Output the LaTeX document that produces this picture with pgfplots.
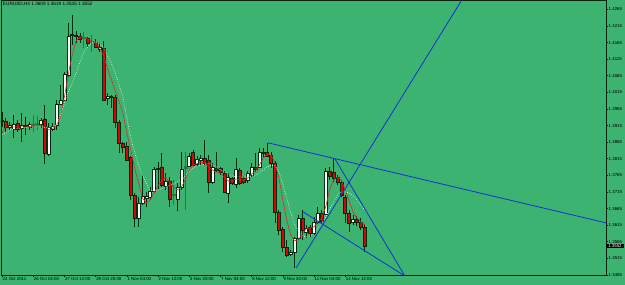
\documentclass[border=0pt]{standalone}
\usepackage{pgfplots}
\pgfplotsset{compat=1.18}
\usepackage{pgfplotstable}
\usepackage{fontspec}
\setmainfont{Liberation Sans}
\definecolor{bg}{RGB}{60,179,113}
\definecolor{axcol}{RGB}{10,35,10}
\definecolor{wickc}{RGB}{0,45,15}
\definecolor{bearc}{RGB}{225,0,0}
\definecolor{ghostc}{RGB}{35,122,70}
\definecolor{mared}{RGB}{230,35,35}
\definecolor{madot}{RGB}{215,245,225}
\definecolor{tline}{RGB}{20,50,210}
\tikzset{
 wick0/.style={draw=wickc, line width=0.9bp},
 wick1/.style={draw=wickc, line width=0.9bp},
 wick2/.style={draw=ghostc, line width=0.9bp},
 body0/.style={fill=white, draw=wickc, line width=0.5bp},
 body1/.style={fill=bearc, draw=wickc, line width=0.5bp},
 body2/.style={fill=ghostc, draw=ghostc, line width=0.5bp},
}
\pgfplotstableread{
x k o h l c
0 0 1.3929 1.3956 1.3911 1.3932
1 1 1.3929 1.3938 1.3896 1.3911
2 0 1.3911 1.3926 1.3902 1.3917
3 0 1.3905 1.3947 1.3878 1.3920
4 1 1.3923 1.3932 1.3896 1.3905
5 0 1.3908 1.3953 1.3866 1.3917
6 0 1.3914 1.3941 1.3887 1.3917
7 0 1.3911 1.3926 1.3902 1.3920
8 2 1.3917 1.3947 1.3896 1.3920
9 2 1.3920 1.3944 1.3902 1.3923
10 0 1.3920 1.3938 1.3908 1.3932
11 1 1.3935 1.3977 1.3799 1.3832
12 0 1.3829 1.3923 1.3823 1.3911
13 0 1.3905 1.3923 1.3899 1.3914
14 0 1.3917 1.3992 1.3902 1.3980
15 0 1.3980 1.4037 1.3977 1.3992
16 0 1.3992 1.4076 1.3989 1.4070
17 0 1.4067 1.4224 1.4061 1.4185
18 0 1.4188 1.4248 1.4158 1.4191
19 0 1.4185 1.4200 1.4164 1.4188
20 1 1.4185 1.4194 1.4164 1.4176
21 2 1.4179 1.4197 1.4149 1.4182
22 1 1.4179 1.4182 1.4152 1.4164
23 2 1.4167 1.4188 1.4136 1.4170
24 1 1.4167 1.4176 1.4149 1.4152
25 0 1.4146 1.4164 1.4136 1.4152
26 1 1.4149 1.4170 1.3989 1.3992
27 0 1.3998 1.4013 1.3977 1.4004
28 0 1.4001 1.4007 1.3968 1.4004
29 1 1.4001 1.4007 1.3908 1.3926
30 1 1.3926 1.3932 1.3832 1.3863
31 1 1.3863 1.3866 1.3832 1.3851
32 1 1.3854 1.3866 1.3808 1.3811
33 1 1.3820 1.3823 1.3691 1.3706
34 1 1.3706 1.3712 1.3610 1.3637
35 0 1.3637 1.3700 1.3610 1.3682
36 0 1.3682 1.3766 1.3676 1.3703
37 0 1.3697 1.3715 1.3670 1.3703
38 0 1.3700 1.3730 1.3691 1.3718
39 0 1.3718 1.3790 1.3712 1.3784
40 0 1.3784 1.3805 1.3721 1.3787
41 1 1.3790 1.3832 1.3730 1.3736
42 0 1.3733 1.3772 1.3721 1.3748
43 1 1.3748 1.3760 1.3670 1.3694
44 2 1.3706 1.3751 1.3676 1.3709
45 0 1.3694 1.3742 1.3658 1.3730
46 0 1.3730 1.3835 1.3721 1.3784
47 2 1.3787 1.3835 1.3661 1.3793
48 0 1.3793 1.3832 1.3790 1.3823
49 1 1.3835 1.3842 1.3793 1.3796
50 0 1.3799 1.3823 1.3793 1.3814
51 0 1.3811 1.3826 1.3796 1.3817
52 1 1.3817 1.3872 1.3796 1.3802
53 1 1.3811 1.3826 1.3712 1.3745
54 0 1.3745 1.3802 1.3739 1.3790
55 1 1.3787 1.3835 1.3775 1.3781
56 1 1.3787 1.3790 1.3766 1.3775
57 1 1.3772 1.3778 1.3712 1.3715
58 0 1.3712 1.3772 1.3682 1.3760
59 1 1.3757 1.3760 1.3736 1.3742
60 0 1.3739 1.3817 1.3727 1.3784
61 1 1.3781 1.3787 1.3736 1.3742
62 1 1.3757 1.3763 1.3739 1.3745
63 0 1.3751 1.3778 1.3742 1.3772
64 0 1.3766 1.3802 1.3760 1.3790
65 1 1.3790 1.3832 1.3775 1.3784
66 0 1.3790 1.3848 1.3787 1.3835
67 0 1.3832 1.3848 1.3820 1.3835
68 1 1.3835 1.3863 1.3820 1.3823
69 1 1.3826 1.3835 1.3787 1.3802
70 1 1.3802 1.3808 1.3622 1.3655
71 1 1.3655 1.3661 1.3586 1.3601
72 1 1.3604 1.3610 1.3535 1.3550
73 1 1.3550 1.3571 1.3519 1.3525
74 0 1.3528 1.3541 1.3522 1.3535
75 0 1.3535 1.3580 1.3486 1.3577
76 0 1.3577 1.3646 1.3571 1.3637
77 1 1.3637 1.3661 1.3571 1.3601
78 0 1.3595 1.3616 1.3577 1.3607
79 1 1.3610 1.3616 1.3580 1.3592
80 0 1.3592 1.3640 1.3586 1.3625
81 0 1.3625 1.3670 1.3619 1.3652
82 1 1.3652 1.3661 1.3622 1.3628
83 0 1.3649 1.3787 1.3646 1.3778
84 1 1.3778 1.3790 1.3751 1.3763
85 1 1.3775 1.3814 1.3745 1.3757
86 1 1.3760 1.3766 1.3736 1.3745
87 1 1.3745 1.3751 1.3700 1.3706
88 1 1.3700 1.3706 1.3622 1.3652
89 1 1.3652 1.3661 1.3595 1.3622
90 0 1.3625 1.3646 1.3616 1.3634
91 1 1.3634 1.3643 1.3613 1.3625
92 1 1.3625 1.3637 1.3601 1.3610
93 1 1.3609 1.3619 1.3535 1.3552
}\ohlc
\begin{document}
\begin{tikzpicture}
\fill[bg] (-1bp,-10bp) rectangle (624bp,275bp);
\path[use as bounding box] (-1bp,-10bp) rectangle (624bp,275bp);
\begin{axis}[
 at={(0,0)}, anchor=south west,
 scale only axis, width=605bp, height=275bp,
 xmin=-0.256, xmax=154.87, ymin=1.3465, ymax=1.4293,
 clip mode=individual,
 axis line style={draw=axcol, line width=0.8bp},
 tick style={draw=axcol, line width=0.6bp},
 tick align=outside, major tick length=2bp,
 xtick pos=bottom, ytick pos=right,
 xtick={0,8,16,24,32,40,48,56,64,72,80,88},
 xticklabels={24 Oct 2011,26 Oct 04:00,27 Oct 12:00,28 Oct 20:00,1 Nov 04:00,2 Nov 12:00,3 Nov 20:00,7 Nov 04:00,8 Nov 12:00,9 Nov 20:00,11 Nov 04:00,14 Nov 12:00},
 xticklabel style={anchor=north west, inner sep=0.5bp, xshift=0bp, font=\fontsize{4.4}{5}\selectfont, text=black},
 ytick={1.3465,1.3515,1.3565,1.3615,1.3665,1.3715,1.3765,1.3815,1.3865,1.3915,1.3965,1.4015,1.4065,1.4115,1.4165,1.4215,1.4265},
 yticklabels={1.3465,1.3515,1.3565,1.3615,1.3665,1.3715,1.3765,1.3815,1.3865,1.3915,1.3965,1.4015,1.4065,1.4115,1.4165,1.4215,1.4265},
 yticklabel style={anchor=west, inner sep=0.5bp, font=\fontsize{4.4}{5}\selectfont, text=black},
 scaled ticks=false,
]
\pgfplotsforeachungrouped \r in {0,...,93}{%
 \pgfplotstablegetelem{\r}{x}\of\ohlc \let\vx\pgfplotsretval
 \pgfplotstablegetelem{\r}{k}\of\ohlc \let\vk\pgfplotsretval
 \pgfplotstablegetelem{\r}{o}\of\ohlc \let\vo\pgfplotsretval
 \pgfplotstablegetelem{\r}{h}\of\ohlc \let\vh\pgfplotsretval
 \pgfplotstablegetelem{\r}{l}\of\ohlc \let\vl\pgfplotsretval
 \pgfplotstablegetelem{\r}{c}\of\ohlc \let\vc\pgfplotsretval
 \pgfmathsetmacro\xa{\vx-0.38}%
 \pgfmathsetmacro\xb{\vx+0.38}%
 \edef\doit{%
  \noexpand\addplot[wick\vk] coordinates {(\vx,\vl) (\vx,\vh)};
  \noexpand\addplot[body\vk] coordinates {(\xa,\vo) (\xb,\vo) (\xb,\vc) (\xa,\vc)} -- cycle;
 }\doit
}
% fast moving average
\addplot[mared, line width=0.55bp] table {
x y
0 1.3893
1 1.3911
3 1.3911
6 1.3911
9 1.3914
10 1.3917
11 1.3908
12 1.3902
13 1.3905
14 1.3917
15 1.3941
16 1.4001
17 1.4070
18 1.4127
19 1.4170
20 1.4182
22 1.4176
24 1.4164
25 1.4149
26 1.4127
27 1.4088
29 1.4022
31 1.3953
32 1.3893
33 1.3842
34 1.3787
35 1.3742
36 1.3697
37 1.3682
38 1.3691
39 1.3712
40 1.3733
41 1.3751
42 1.3757
43 1.3745
44 1.3730
45 1.3721
46 1.3730
47 1.3751
48 1.3781
49 1.3796
51 1.3805
52 1.3802
53 1.3790
54 1.3781
55 1.3775
56 1.3772
57 1.3760
58 1.3748
59 1.3748
60 1.3754
61 1.3751
62 1.3751
63 1.3757
64 1.3769
65 1.3778
66 1.3796
67 1.3817
68 1.3829
69 1.3826
70 1.3802
71 1.3757
72 1.3691
73 1.3631
74 1.3586
75 1.3568
76 1.3571
77 1.3589
78 1.3604
79 1.3607
80 1.3610
81 1.3625
82 1.3637
83 1.3670
84 1.3721
85 1.3751
86 1.3760
87 1.3751
88 1.3721
89 1.3688
90 1.3655
91 1.3637
92 1.3625
93 1.3616
};
% slow moving average (dotted)
\addplot[madot, line width=0.65bp, dash pattern=on 0.8bp off 1.5bp] table {
x y
0 1.3887
2 1.3902
5 1.3908
8 1.3911
10 1.3911
12 1.3908
14 1.3917
15 1.3944
16 1.3983
17 1.4016
18 1.4043
19 1.4073
20 1.4106
21 1.4136
22 1.4152
23 1.4164
24 1.4167
25 1.4161
26 1.4152
27 1.4127
28 1.4103
29 1.4076
30 1.4037
31 1.4001
32 1.3938
33 1.3878
34 1.3835
35 1.3796
36 1.3766
37 1.3742
38 1.3721
39 1.3718
40 1.3721
42 1.3730
44 1.3739
45 1.3745
46 1.3751
47 1.3763
48 1.3778
49 1.3787
50 1.3793
51 1.3796
52 1.3799
53 1.3802
54 1.3796
55 1.3790
56 1.3781
57 1.3775
58 1.3769
59 1.3763
61 1.3760
63 1.3760
65 1.3766
66 1.3772
67 1.3781
68 1.3790
69 1.3796
70 1.3793
71 1.3775
72 1.3739
73 1.3697
74 1.3655
75 1.3619
76 1.3598
77 1.3583
78 1.3580
79 1.3583
80 1.3589
81 1.3607
82 1.3622
83 1.3640
84 1.3664
85 1.3685
86 1.3706
87 1.3715
88 1.3715
89 1.3712
90 1.3703
91 1.3691
92 1.3676
93 1.3661
94 1.3646
};
% trend lines
\addplot[tline, line width=0.8bp] coordinates {(68.2,1.3863) (154.87,1.3622)};
\addplot[tline, line width=0.8bp] coordinates {(75.4,1.3486) (117.9,1.4293)};
\addplot[tline, line width=0.8bp] coordinates {(85.4,1.3814) (103.3,1.3462)};
\addplot[tline, line width=0.8bp] coordinates {(77.2,1.3655) (103.3,1.3462)};
\node[anchor=north west, inner sep=0pt, font=\fontsize{4.7}{5}\selectfont, text=black, xshift=1.8bp, yshift=-1.8bp] at (rel axis cs:0,1) {EURUSD,H4 1.3609 1.3619 1.3535 1.3552};
\node[anchor=west, fill=black, text=white, inner xsep=1bp, inner ysep=0.7bp, minimum width=17.5bp, font=\fontsize{4.4}{5}\selectfont] at (axis cs:154.87,1.3552) {1.3552};
\end{axis}
\end{tikzpicture}
\end{document}
